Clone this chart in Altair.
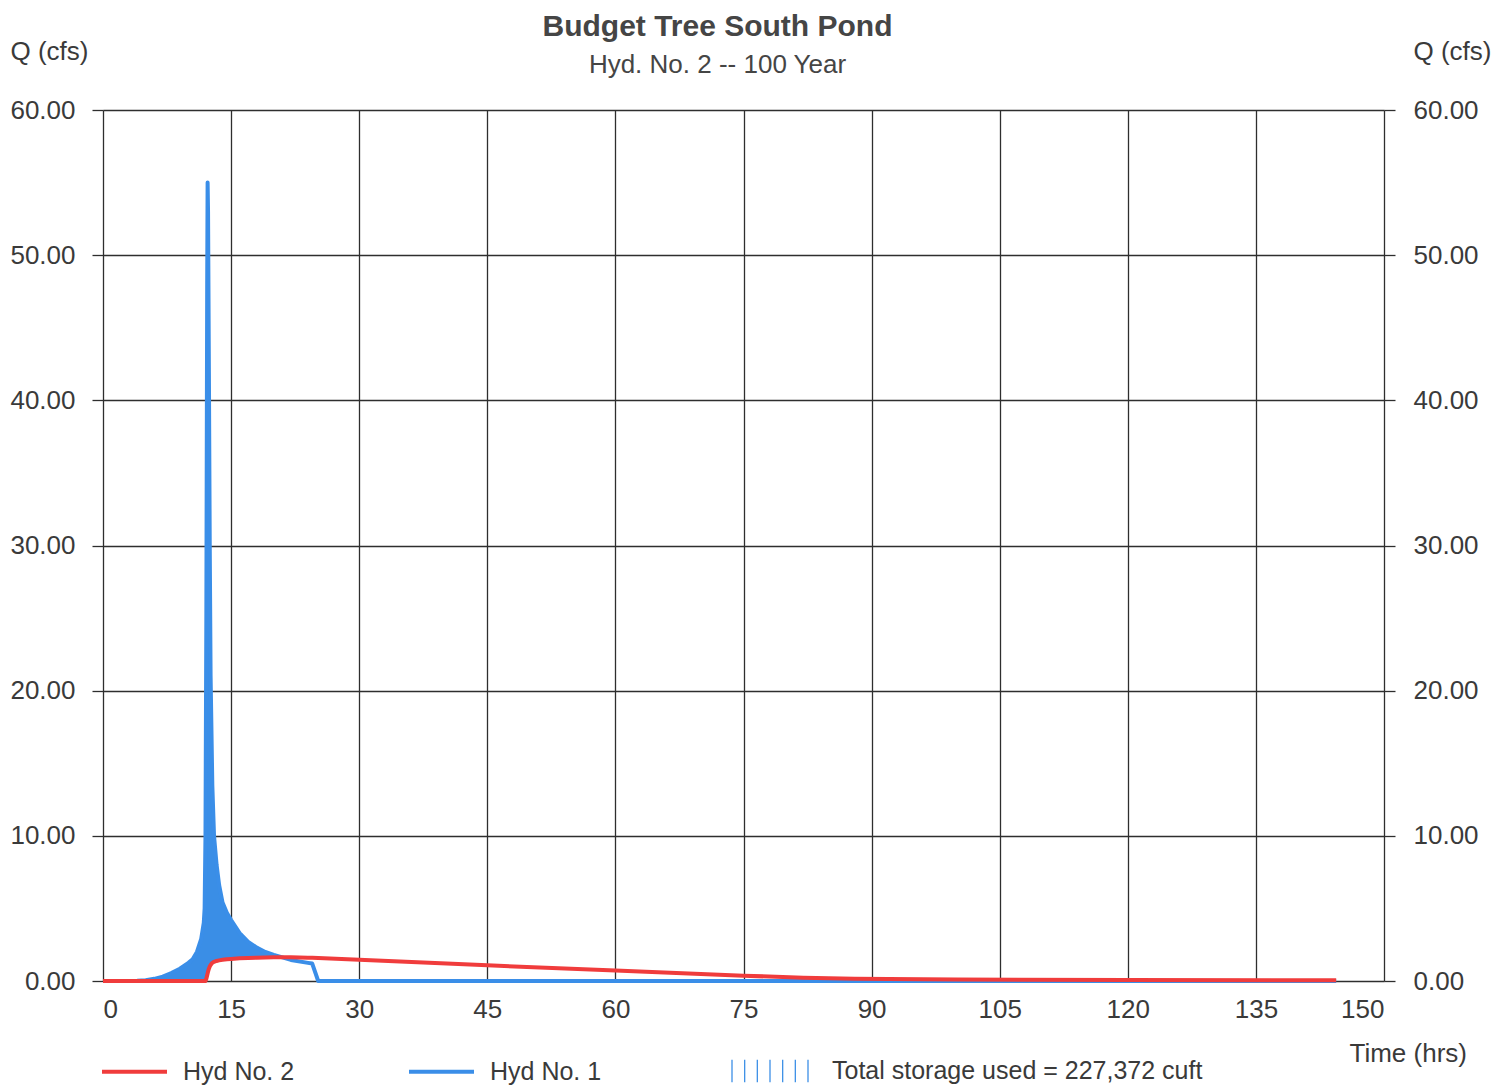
import altair as alt
import pandas as pd

# ---- data ----
hours = [0, 2, 4, 5, 6, 7, 8, 9, 10, 10.5, 11, 11.5, 11.8, 11.9, 12.0, 12.1, 12.2, 12.25,
         12.3, 12.4, 12.5, 12.6, 12.8, 13.0, 13.3, 13.6, 14.0, 14.5, 15, 16, 17, 18, 19,
         20, 22, 24, 24.5, 25.2, 30, 45, 60, 75, 82, 88, 100, 120, 144.4]
inflow = [0, 0, 0.02, 0.06, 0.15, 0.3, 0.55, 0.85, 1.25, 1.5, 2.0, 2.9, 4.0, 5.0, 10.0, 25.0,
          48.0, 55.0, 53.0, 42.0, 30.0, 21.0, 13.5, 10.0, 8.0, 6.6, 5.4, 4.7, 4.2, 3.3, 2.7,
          2.3, 2.0, 1.8, 1.45, 1.25, 1.2, 0, 0, 0, 0, 0, 0, 0, 0, 0, 0]
outflow = [0, 0, 0, 0, 0, 0, 0, 0, 0, 0, 0, 0, 0, 0, 0, 0.15, 0.4, 0.52, 0.65, 0.85, 1.0,
           1.1, 1.25, 1.32, 1.38, 1.42, 1.46, 1.5, 1.52, 1.56, 1.59, 1.61, 1.62, 1.63, 1.63,
           1.61, 1.6, 1.59, 1.47, 1.08, 0.72, 0.37, 0.22, 0.15, 0.1, 0.07, 0.05]

x_ticks = [0, 15, 30, 45, 60, 75, 90, 105, 120, 135, 150]
y_ticks = [0, 10, 20, 30, 40, 50, 60]

title_text = "Budget Tree South Pond"
subtitle_text = "Hyd. No. 2 -- 100 Year"
y_title = "Q (cfs)"
x_title = "Time (hrs)"
series_names = ["Hyd No. 2", "Hyd No. 1"]
storage_label = "Total storage used = 227,372 cuft"

RED = "#f03c3c"
BLUE = "#3a8ee8"
FILL = "#3a8ee6"
TXT = "#3a3a3a"
GRID = "#2e2e2e"
FONT = "Liberation Sans"

df = pd.DataFrame({
    "t": hours, "inflow": inflow, "outflow": outflow,
    "out_name": series_names[0], "in_name": series_names[1], "st_name": storage_label,
})

hatch = " ".join(
    f"M{x - 0.016:.3f},-0.28h0.032v0.56h-0.032z"
    for x in [-0.95, -0.633, -0.317, 0.0, 0.317, 0.633, 0.95]
)

x_enc = alt.X(
    "t:Q",
    scale=alt.Scale(domain=[0, 150], nice=False, zero=False),
    axis=alt.Axis(
        values=x_ticks, format="d", grid=True, ticks=False, tickSize=0, domain=False,
        labelPadding=15, labelFontSize=26, labelColor=TXT, labelFont=FONT,
        gridColor=GRID, gridWidth=1.3, gridOpacity=1,
        title=x_title, titleFontSize=26, titleFontWeight="normal", titleColor=TXT,
        titleFont=FONT, titleAngle=0, titleAlign="left", titleBaseline="middle",
        titleX=1246, titleY=72,
    ),
)

yscale = alt.Scale(domain=[0, 60], nice=False)

left_axis = alt.Axis(
    orient="left", values=y_ticks, format=".2f", grid=True, domain=False,
    ticks=True, tickSize=11, tickColor=GRID, tickWidth=1.3,
    labelPadding=17, labelFontSize=26, labelColor=TXT, labelFont=FONT,
    gridColor=GRID, gridWidth=1.3, gridOpacity=1,
    title=y_title, titleFontSize=26, titleFontWeight="normal", titleColor=TXT,
    titleFont=FONT, titleAngle=0, titleAlign="left", titleBaseline="middle",
    titleX=-93, titleY=-59,
)
right_axis = alt.Axis(
    orient="right", values=y_ticks, format=".2f", grid=False, domain=False,
    ticks=True, tickSize=11, tickColor=GRID, tickWidth=1.3,
    labelPadding=18, labelFontSize=26, labelColor=TXT, labelFont=FONT,
    title=y_title, titleFontSize=26, titleFontWeight="normal", titleColor=TXT,
    titleFont=FONT, titleAngle=0, titleAlign="left", titleBaseline="middle",
    titleX=29, titleY=-59,
)

color_scale = alt.Scale(domain=series_names, range=[RED, BLUE])
color_legend = alt.Legend(
    orient="none", legendX=-3, legendY=927, direction="horizontal", title=None,
    symbolType="stroke", symbolSize=4225, symbolStrokeWidth=4,
    labelFontSize=25, labelFont=FONT, labelColor=TXT, labelOffset=14,
    columnPadding=106, padding=0,
)
fill_legend = alt.Legend(
    orient="none", legendX=627, legendY=921, direction="horizontal", title=None,
    symbolType=hatch, symbolSize=6400, symbolStrokeWidth=0,
    labelFontSize=25, labelFont=FONT, labelColor=TXT, labelOffset=22,
    labelLimit=0, padding=0,
)

base = alt.Chart(df)

storage = base.transform_calculate(
    low="min(datum.inflow, datum.outflow)"
).mark_area(opacity=1).encode(
    x=x_enc,
    y=alt.Y("inflow:Q", scale=yscale, axis=left_axis),
    y2="low:Q",
    fill=alt.Fill(
        "st_name:N",
        scale=alt.Scale(domain=[storage_label], range=[FILL]),
        legend=fill_legend,
    ),
)

blue_line = base.mark_line(strokeWidth=4, strokeJoin="round").encode(
    x=x_enc,
    y=alt.Y("inflow:Q", scale=yscale, axis=None),
    color=alt.Color("in_name:N", scale=color_scale, legend=color_legend),
)

red_line = base.mark_line(strokeWidth=4, strokeJoin="round").encode(
    x=x_enc,
    y=alt.Y("outflow:Q", scale=yscale, axis=right_axis),
    color=alt.Color("out_name:N", scale=color_scale, legend=color_legend),
)

chart = alt.layer(storage, blue_line, red_line).resolve_axis(
    y="independent"
).properties(
    width=1281,
    height=871,
    autosize=alt.AutoSizeParams(type="none"),
    padding={"left": 95, "top": 102, "right": 110, "bottom": 106},
    title=alt.TitleParams(
        text=title_text, subtitle=subtitle_text, anchor="middle", frame="group",
        font=FONT, fontSize=30, fontWeight="bold", color="#454545",
        subtitleFont=FONT, subtitleFontSize=26, subtitleColor="#454545",
        subtitlePadding=10, dx=-26, offset=-40,
    ),
).configure_view(stroke=None).configure(background="white")

chart.save("out.html", embed_options={"renderer": "svg", "actions": False})
